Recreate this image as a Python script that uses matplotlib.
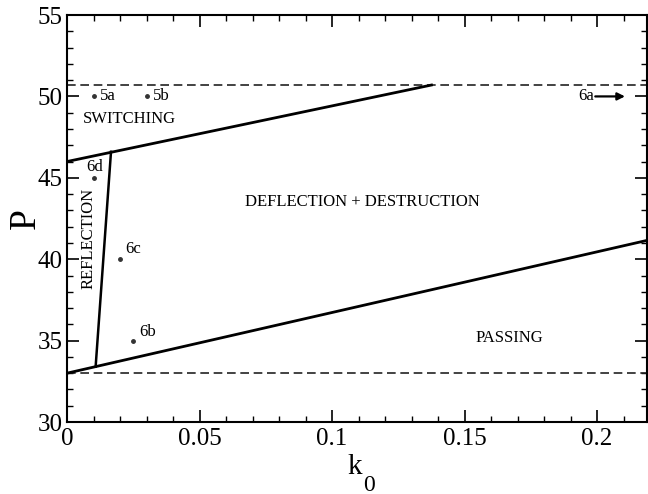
import numpy as np
import matplotlib
matplotlib.use("Agg")
import matplotlib.pyplot as plt
from matplotlib.ticker import MultipleLocator

plt.rcParams["font.family"] = ["Liberation Serif", "DejaVu Serif"]

# boundary lines (k0, P)
upper_k = [0.0, 0.1375]
upper_p = [46.0, 50.7]
lower_k = [0.0, 0.22]
lower_p = [33.0, 41.2]
refl_k = [0.0108, 0.0166]
refl_p = [33.4, 46.6]
dash_levels = [50.7, 33.0]

# simulated cases
pt_k = [0.010, 0.030, 0.010, 0.020, 0.025]
pt_p = [50.0, 50.0, 45.0, 40.0, 35.0]
pt_lab = ["5a", "5b", "6d", "6c", "6b"]
lab_off = [(4.5, 0), (4.5, 0), (0.5, 7.5), (3.5, 7.5), (4.2, 6.5)]
lab_ha = ["left", "left", "center", "left", "left"]

fig = plt.figure(figsize=(6.48, 4.94), dpi=100)
ax = fig.add_axes([0.1034, 0.1457, 0.8958, 0.8239])

for lv in dash_levels:
    ax.axhline(lv, color="#222222", lw=1.2, ls=(0, (5.2, 2.8)))
ax.plot(upper_k, upper_p, color="black", lw=2)
ax.plot(lower_k, lower_p, color="black", lw=2)
ax.plot(refl_k, refl_p, color="black", lw=1.8)
ax.plot(pt_k, pt_p, "o", color="#333333", ms=2.5, ls="none")

for k, p, s, (dx, dy), ha in zip(pt_k, pt_p, pt_lab, lab_off, lab_ha):
    ax.annotate(s, (k, p), xytext=(dx, dy), textcoords="offset points",
                ha=ha, va="center", fontsize=12)

ax.text(0.0061, 48.6, "SWITCHING", fontsize=12, va="center", ha="left")
ax.text(0.1115, 43.5, "DEFLECTION + DESTRUCTION", fontsize=12, va="center", ha="center")
ax.text(0.167, 35.15, "PASSING", fontsize=12, va="center", ha="center")
ax.text(0.0082, 41.3, "REFLECTION", fontsize=12, va="center", ha="center", rotation=90)
ax.annotate("", xy=(0.2105, 50.0), xytext=(0.1993, 50.0),
            arrowprops=dict(arrowstyle="-|>", color="black", lw=1.6,
                            mutation_scale=11, shrinkA=0, shrinkB=0))
ax.text(0.1988, 50.0, "6a", fontsize=12, va="center", ha="right")

ax.set_xlim(0, 0.219)
ax.set_ylim(30, 55)
ax.xaxis.set_major_locator(MultipleLocator(0.05))
ax.xaxis.set_minor_locator(MultipleLocator(0.01))
ax.yaxis.set_major_locator(MultipleLocator(5))
ax.yaxis.set_minor_locator(MultipleLocator(1))
ax.set_xticks([0, 0.05, 0.1, 0.15, 0.2])
ax.set_xticklabels(["0", "0.05", "0.1", "0.15", "0.2"])
ax.tick_params(which="both", direction="in", top=True, right=True, labelsize=18)
ax.tick_params(axis="x", pad=4)
ax.tick_params(axis="y", pad=3)
ax.tick_params(which="major", length=8.5, width=1.2)
ax.tick_params(which="minor", length=4.5, width=1.0)
for sp in ax.spines.values():
    sp.set_linewidth(1.5)

# k with a large subscript 0, as in the original figure
ax.set_xlabel("k", fontsize=21)
ax.xaxis.set_label_coords(0.496, -0.078)
fig.text(369 / 648, 1 - 485 / 494, "0", fontsize=17, ha="center", va="center")
ax.set_ylabel("P", fontsize=27)
ax.yaxis.set_label_coords(-0.041, 0.50)

fig.savefig("out.png", dpi=100)
